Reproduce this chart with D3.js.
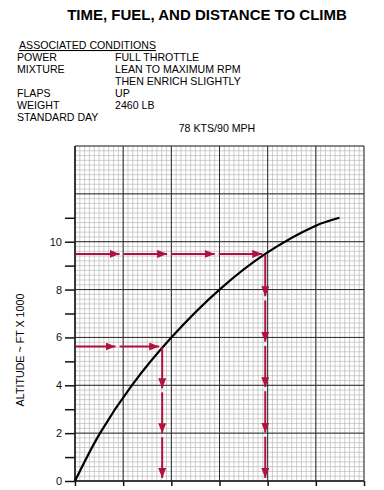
<!DOCTYPE html>
<html>
<head>
<meta charset="utf-8">
<script src="https://cdn.jsdelivr.net/npm/d3@7"></script>
<style>
  body { margin: 0; background: #fff; }
  svg { display: block; font-family: "Liberation Sans", Arial, sans-serif; }
  .minor line { stroke: #b9b9b9; stroke-width: 0.7; }
  .major line { stroke: #2a2a2a; stroke-width: 1; }
</style>
</head>
<body>
<div id="chart"></div>
<script>
// climb curve: x in chart units (10 per major column), altitude in 1000 ft
const curveX   = [0, 5.2, 11.8, 20, 30, 39.5, 50,    54.9];
const curveAlt = [0, 2,   4,    6,  8,  9.49, 10.67, 11.0];

// example readings (start altitude -> curve -> down to axis)
const arrowAlt = [5.62, 9.49];
const arrowX   = [18.1, 39.5];
const arrowHSegs = [2, 4];
const arrowVSegs = [3, 5];

const yTicks  = [0, 1, 2, 3, 4, 5, 6, 7, 8, 9, 10, 11];
const yLabels = [0, 2, 4, 6, 8, 10];
const xMajor  = [0, 10, 20, 30, 40, 50, 60];

const conditions = [
  ["POWER", "FULL THROTTLE"],
  ["MIXTURE", "LEAN TO MAXIMUM RPM"],
  ["", "THEN ENRICH SLIGHTLY"],
  ["FLAPS", "UP"],
  ["WEIGHT", "2460 LB"],
  ["STANDARD DAY", ""]
];

const W = 384, H = 490;
const RED = "#b0123f";

const svg = d3.select("#chart").append("svg")
  .attr("width", W).attr("height", H);

const x = d3.scaleLinear().domain([0, 60]).range([75, 364]);
const y = d3.scaleLinear().domain([0, 14]).range([481, 146]);

// title + conditions
svg.append("text")
  .attr("x", 207).attr("y", 20)
  .attr("text-anchor", "middle")
  .style("font-size", "15px").style("font-weight", "bold")
  .text("TIME, FUEL, AND DISTANCE TO CLIMB");

svg.append("text")
  .attr("x", 19).attr("y", 49)
  .style("font-size", "10.6px")
  .style("text-decoration", "underline")
  .text("ASSOCIATED CONDITIONS");

conditions.forEach(function (c, i) {
  var yy = 61 + i * 12;
  svg.append("text").attr("x", 17).attr("y", yy)
    .style("font-size", "10.6px").text(c[0]);
  svg.append("text").attr("x", 115).attr("y", yy)
    .style("font-size", "10.6px").text(c[1]);
});

svg.append("text")
  .attr("x", 217).attr("y", 132)
  .attr("text-anchor", "middle")
  .style("font-size", "10.6px")
  .text("78 KTS/90 MPH");

// grid
var g = svg.append("g");
g.append("g").attr("class", "minor")
  .selectAll("line.v").data(d3.range(0, 61, 1)).enter().append("line")
  .attr("x1", d => x(d)).attr("x2", d => x(d))
  .attr("y1", y(0)).attr("y2", y(14));
g.select(".minor")
  .selectAll("line.h").data(d3.range(0, 70.5, 1).map(d => d * 0.2)).enter().append("line")
  .attr("class", "h")
  .attr("x1", x(0)).attr("x2", x(60))
  .attr("y1", d => y(d)).attr("y2", d => y(d));

var major = g.append("g").attr("class", "major");
major.selectAll("line.v").data(xMajor).enter().append("line")
  .attr("class", "v")
  .attr("x1", d => x(d)).attr("x2", d => x(d))
  .attr("y1", y(0)).attr("y2", y(14));
major.selectAll("line.h").data(d3.range(0, 15, 2)).enter().append("line")
  .attr("class", "h")
  .attr("x1", x(0)).attr("x2", x(60))
  .attr("y1", d => y(d)).attr("y2", d => y(d));

// axes
var yAxis = d3.axisLeft(y).tickValues(yTicks).tickSize(10).tickPadding(3)
  .tickFormat(d => yLabels.indexOf(d) >= 0 ? d : "");
var ya = svg.append("g").attr("transform", "translate(" + x(0) + ",0)").call(yAxis);
ya.select(".domain").remove();
ya.selectAll(".tick line").attr("stroke", "#111").attr("stroke-width", 1.5);
ya.selectAll(".tick text").style("font-size", "11px").attr("fill", "#111")
  .style("font-family", "'Liberation Sans', Arial, sans-serif");

var xAxis = d3.axisBottom(x).tickValues(xMajor).tickSize(5).tickFormat("");
var xa = svg.append("g").attr("transform", "translate(0," + y(0) + ")").call(xAxis);
xa.select(".domain").remove();
xa.selectAll(".tick line").attr("stroke", "#111").attr("stroke-width", 1.5);

svg.append("line")
  .attr("x1", x(0)).attr("x2", x(0)).attr("y1", y(0) + 1).attr("y2", y(14))
  .attr("stroke", "#222").attr("stroke-width", 1.6);
svg.append("line")
  .attr("x1", x(0) - 1).attr("x2", x(60)).attr("y1", y(0)).attr("y2", y(0))
  .attr("stroke", "#222").attr("stroke-width", 1.6);

svg.append("text")
  .attr("transform", "translate(24," + 350 + ") rotate(-90)")
  .attr("text-anchor", "middle")
  .style("font-size", "10.7px")
  .text("ALTITUDE ~ FT X 1000");

// climb curve
var line = d3.line()
  .x(d => x(d[0])).y(d => y(d[1]))
  .curve(d3.curveCatmullRom.alpha(0.5));
svg.append("path")
  .datum(d3.zip(curveX, curveAlt))
  .attr("d", line)
  .attr("fill", "none").attr("stroke", "#000").attr("stroke-width", 2.2);

// arrow marker
svg.append("defs").append("marker")
  .attr("id", "head")
  .attr("viewBox", "0 0 10 8")
  .attr("refX", 10).attr("refY", 4)
  .attr("markerWidth", 10).attr("markerHeight", 8)
  .attr("markerUnits", "userSpaceOnUse")
  .attr("orient", "auto")
  .append("path").attr("d", "M0,0 L10,4 L0,8 Z").attr("fill", RED);

function dashedArrow(x1, y1, x2, y2, n) {
  for (var i = 0; i < n; i++) {
    var a = i / n, b = (i + 1) / n;
    var sx = x1 + (x2 - x1) * a, sy = y1 + (y2 - y1) * a;
    var ex = x1 + (x2 - x1) * b, ey = y1 + (y2 - y1) * b;
    var len = Math.hypot(ex - sx, ey - sy);
    var ux = (ex - sx) / len, uy = (ey - sy) / len;
    svg.append("line")
      .attr("x1", sx + ux * 1).attr("y1", sy + uy * 1)
      .attr("x2", ex - ux * 3).attr("y2", ey - uy * 3)
      .attr("stroke", RED).attr("stroke-width", 2)
      .attr("marker-end", "url(#head)");
  }
}

arrowAlt.forEach(function (a, i) {
  var px = x(arrowX[i]), py = y(a);
  dashedArrow(x(0), py, px, py, arrowHSegs[i]);
  dashedArrow(px, py, px, y(0), arrowVSegs[i]);
});
</script>
</body>
</html>
